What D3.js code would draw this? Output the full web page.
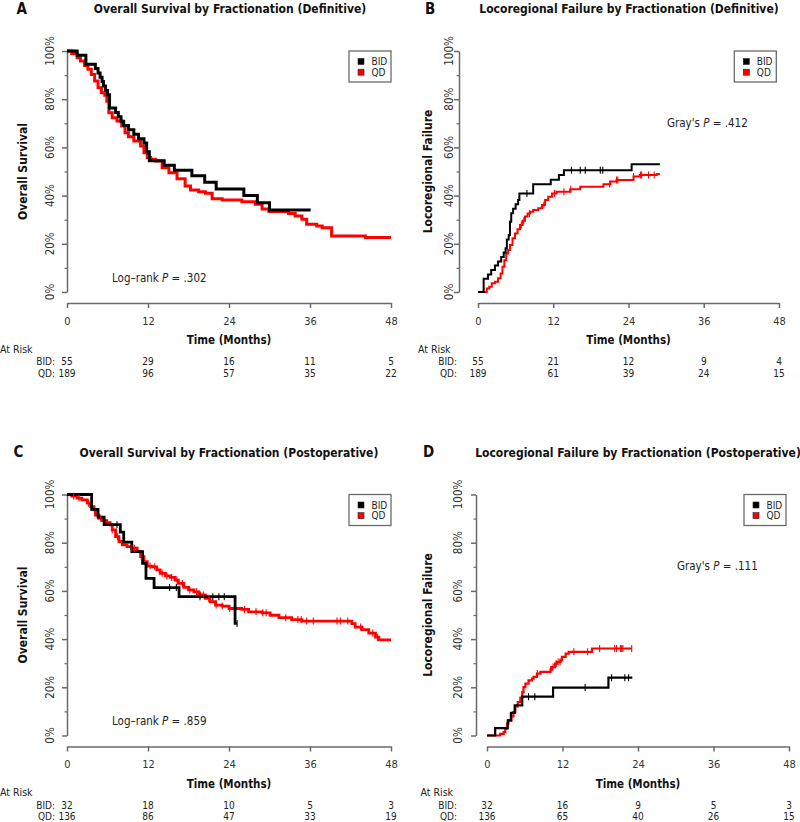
<!DOCTYPE html>
<html><head><meta charset="utf-8">
<script src="https://cdn.jsdelivr.net/npm/d3@7"></script>
<style>
body{margin:0;background:#fff}
svg{display:block}
text{font-family:"DejaVu Sans Condensed","DejaVu Sans",sans-serif;}
</style>
</head><body>
<svg id="c" width="800" height="822"></svg>
<script>
// ---------- tick labels / categories ----------
const months = [0, 12, 24, 36, 48];
const yTicks = [0, 20, 40, 60, 80, 100];
const yMinor = [10, 30, 50, 70, 90];
const groups = ["BID", "QD"];

// ---------- A: Overall survival, definitive ----------
const osDefBID = [[0,100],[1.5,98.2],[2.8,94.5],[4.2,92.7],[4.6,90.9],[4.9,89.1],[5.2,87.3],[5.4,85.5],[5.7,83.6],[6.0,81.8],[6.3,76.4],[7.2,74.5],[7.6,72.7],[8.0,70.9],[8.4,69.1],[9.1,67.3],[9.9,65.5],[10.6,63.6],[11.4,61.8],[11.8,58.2],[12.2,54.5],[14.4,52.6],[15.9,50.5],[18.5,48.2],[20.4,45.5],[22.1,42.7],[26.2,40.0],[28.2,37.0],[30.0,34.0],[36.1,34.0]];
const osDefQD = [[0,100],[0.7,99.0],[1.5,97.2],[2.0,95.9],[2.6,94.0],[3.1,92.4],[3.6,90.3],[4.1,87.6],[4.6,84.8],[5.1,82.7],[5.6,81.6],[5.9,79.2],[6.2,74.4],[6.7,72.3],[7.4,71.0],[8.1,68.9],[8.6,66.1],[9.1,64.4],[9.9,62.7],[10.9,60.6],[11.4,57.8],[11.9,55.8],[12.4,55.1],[13.1,54.4],[14.1,51.6],[15.1,49.5],[16.3,47.0],[17.5,44.0],[18.3,42.3],[19.5,41.6],[20.5,41.0],[21.5,38.7],[23.0,38.2],[25.9,37.5],[27.9,36.4],[28.9,34.4],[29.9,33.4],[32.8,32.6],[33.8,31.5],[34.8,30.2],[35.5,28.1],[37.0,27.4],[37.8,26.7],[39.2,23.2],[44.2,22.6],[48.0,22.6]];
const osDefBIDCens = [];
const osDefQDCens = [];
const riskOsDefBID = [55, 29, 16, 11, 5];
const riskOsDefQD = [189, 96, 57, 35, 22];

// ---------- B: Locoregional failure, definitive ----------
const lrfDefBID = [[0,0],[0.9,5.5],[1.6,7.3],[2.1,9.1],[2.7,11.0],[3.2,12.7],[3.7,14.5],[4.1,16.4],[4.4,18.2],[4.6,21.8],[4.9,23.6],[5.1,29.1],[5.3,32.7],[5.6,34.5],[6.0,36.4],[6.4,38.2],[6.6,40.9],[8.8,44.7],[11.6,46.6],[12.9,48.5],[13.7,50.5],[24.5,53.0],[29.0,53.0]];
const lrfDefQD = [[0,0],[1.4,1.5],[1.8,2.2],[2.2,3.6],[2.7,4.3],[3.2,5.7],[3.6,7.7],[3.9,10.5],[4.2,13.2],[4.5,16.0],[4.8,17.4],[5.1,19.5],[5.5,22.3],[5.9,24.3],[6.3,26.0],[6.7,27.8],[7.1,29.6],[7.5,31.3],[7.9,32.6],[8.3,33.3],[8.8,34.0],[9.6,34.7],[10.2,36.1],[10.7,38.2],[11.2,39.5],[11.8,40.9],[12.5,41.6],[14.7,42.6],[16.3,43.7],[20.0,44.7],[21.1,45.8],[22.1,46.5],[24.8,47.9],[25.8,48.5],[28.5,49.0],[29.0,49.0]];
const lrfDefBIDCens = [7.8, 14.9, 16.3, 17.1, 19.5, 19.9];
const lrfDefQDCens = [6.9, 7.3, 8.2, 10.5, 12.2, 13.7, 14.8, 21.0, 22.1, 22.3, 24.8, 25.9, 26.1, 27.2, 28.1];
const riskLrfDefBID = [55, 21, 12, 9, 4];
const riskLrfDefQD = [189, 61, 39, 24, 15];

// ---------- C: Overall survival, postoperative ----------
const osPostBID = [[0,100],[3.65,93.8],[4.6,90.6],[5.5,87.5],[7.9,84.4],[8.4,80.2],[9.6,76.3],[11.2,71.4],[11.7,65.2],[12.9,61.4],[16.6,57.6],[24.9,46.5],[25.2,46.5]];
const osPostQD = [[0,100],[0.7,99.3],[1.5,98.5],[2.2,97.8],[3.0,96.4],[3.5,95.0],[4.0,93.6],[4.2,91.5],[4.7,90.1],[5.2,89.2],[5.9,88.3],[6.4,87.4],[6.7,85.3],[7.2,82.5],[7.7,80.5],[8.2,79.1],[8.9,78.4],[9.6,77.7],[10.4,76.3],[10.9,74.2],[11.4,72.1],[11.9,70.3],[12.6,70.0],[13.3,68.7],[13.8,67.3],[14.6,66.2],[15.3,65.6],[16.0,64.5],[16.5,63.1],[17.3,61.5],[18.0,60.4],[18.8,59.6],[19.5,58.3],[20.5,56.9],[21.2,55.5],[22.0,54.1],[23.0,53.7],[24.0,52.7],[25.9,52.3],[26.9,51.3],[28.9,50.9],[30.1,49.9],[31.4,48.9],[33.3,48.1],[34.8,47.5],[42.2,46.4],[42.7,45.0],[43.7,43.9],[44.7,42.5],[45.7,40.8],[46.2,39.7],[48.0,39.7]];
const osPostBIDCens = [7.4, 15.2, 16.2, 19.7, 21.6, 22.5, 23.3, 25.2];
const osPostQDCens = [1.0, 1.8, 3.2, 5.0, 6.7, 7.5, 9.6, 10.0, 11.0, 12.3, 13.0, 14.1, 14.8, 15.5, 16.3, 17.1, 18.2, 19.2, 19.8, 20.2, 21.0, 22.1, 23.0, 24.1, 26.3, 28.0, 29.0, 29.5, 32.4, 34.2, 34.7, 35.5, 36.5, 40.0, 40.5, 41.6, 43.5, 45.3, 46.0];
const riskOsPostBID = [32, 18, 10, 5, 3];
const riskOsPostQD = [136, 86, 47, 33, 19];

// ---------- D: Locoregional failure, postoperative ----------
const lrfPostBID = [[0,0],[1.3,3.1],[3.3,6.3],[3.8,9.4],[4.4,12.5],[5.6,16.1],[10.5,19.9],[19.3,24.0],[23.1,24.0]];
const lrfPostQD = [[0,0],[2.1,0.7],[2.65,1.4],[2.9,2.8],[3.2,4.9],[3.4,6.2],[3.9,7.9],[4.2,9.7],[4.5,12.1],[4.9,13.9],[5.3,15.7],[5.6,18.0],[5.8,20.1],[6.1,21.5],[6.6,22.9],[7.15,23.6],[7.4,24.3],[7.95,25.7],[8.5,26.4],[10.1,27.3],[10.3,28.4],[10.8,29.8],[11.1,30.5],[11.7,31.2],[11.9,32.6],[12.5,34.0],[13.0,34.7],[16.7,36.1],[23.0,36.1]];
const lrfPostBIDCens = [6.6, 7.6, 15.6, 19.8, 21.9, 22.5];
const lrfPostQDCens = [8.0, 10.1, 10.5, 11.0, 11.3, 11.6, 13.8, 16.0, 17.9, 20.3, 20.6, 21.2, 21.4, 21.6, 23.0];
const riskLrfPostBID = [32, 16, 9, 5, 3];
const riskLrfPostQD = [136, 65, 40, 26, 15];

// ---------- texts ----------
const titles = ["Overall Survival by Fractionation (Definitive)", "Locoregional Failure by Fractionation (Definitive)", "Overall Survival by Fractionation (Postoperative)", "Locoregional Failure by Fractionation (Postoperative)"];
const letters = ["A", "B", "C", "D"];
const yTitles = ["Overall Survival", "Locoregional Failure", "Overall Survival", "Locoregional Failure"];
const pTests = ["Log\u2013rank ", "Gray's ", "Log\u2013rank ", "Gray's "];
const pValues = [".302", ".412", ".859", ".111"];

// ---------- layout (not data) ----------
const colors = {BID: "#000000", QD: "#ff0000"};
const axisColor = "#6a6a6a";
const layout = [
  {dy: 0, yAxisX: 67, xr: [67, 391], yLabX: 53.5, yTitleX: 26.5, titleX: 230, letterX: 16.5, legR: 391, pX: 112, pY: 281.5, arX: 0, arR: 55, lw: 3},
  {dy: 0, yAxisX: 459, xr: [478, 779], yLabX: 453, yTitleX: 432, titleX: 629, letterX: 425, legR: 776.3, pX: 667, pY: 126.5, arX: 418, arR: 457, lw: 2},
  {dy: 443.5, yAxisX: 67, xr: [67, 391], yLabX: 53.5, yTitleX: 26.5, titleX: 229, letterX: 13.5, legR: 391, pX: 112, pY: 281.5, arX: 0, arR: 55, lw: 2.8},
  {dy: 443.5, yAxisX: 476, xr: [487, 789], yLabX: 461.5, yTitleX: 432, titleX: 638, letterX: 423, legR: 786, pX: 677, pY: 126.5, arX: 420.5, arR: 457, lw: 2.2}
];
const series = [
  {BID: osDefBID, QD: osDefQD, cBID: osDefBIDCens, cQD: osDefQDCens, rBID: riskOsDefBID, rQD: riskOsDefQD},
  {BID: lrfDefBID, QD: lrfDefQD, cBID: lrfDefBIDCens, cQD: lrfDefQDCens, rBID: riskLrfDefBID, rQD: riskLrfDefQD},
  {BID: osPostBID, QD: osPostQD, cBID: osPostBIDCens, cQD: osPostQDCens, rBID: riskOsPostBID, rQD: riskOsPostQD},
  {BID: lrfPostBID, QD: lrfPostQD, cBID: lrfPostBIDCens, cQD: lrfPostQDCens, rBID: riskLrfPostBID, rQD: riskLrfPostQD}
];
layout[3].pY = 570 - 443.5;
layout[2].pY = 725 - 443.5;

const svg = d3.select("#c");

function stepValue(arr, t) {
  let v = arr[0][1];
  for (const [tt, vv] of arr) { if (tt <= t) v = vv; else break; }
  return v;
}

layout.forEach((L, i) => {
  const S = series[i];
  const g = svg.append("g").attr("transform", `translate(0,${L.dy})`);
  const x = d3.scaleLinear().domain([0, 48]).range(L.xr);
  const y = d3.scaleLinear().domain([0, 100]).range([292, 51]);

  // titles
  g.append("text").attr("x", L.titleX).attr("y", 13).attr("text-anchor", "middle")
    .attr("font-weight", "bold").attr("font-size", 12).attr("fill", "#111").text(titles[i]);
  g.append("text").attr("x", L.letterX).attr("y", 13.5)
    .attr("font-weight", "bold").attr("font-size", 15).attr("fill", "#111").text(letters[i]);

  // x axis
  const xa = g.append("g").attr("transform", "translate(0,303)")
    .call(d3.axisBottom(x).tickValues(months).tickSize(5).tickSizeOuter(0).tickPadding(9));
  xa.selectAll("path,line").attr("stroke", axisColor).attr("stroke-width", 1.5);
  xa.selectAll("text").attr("font-size", 11).attr("fill", "#333")
    .attr("font-family", '"DejaVu Sans Condensed","DejaVu Sans",sans-serif');

  // y axis
  const ya = g.append("g").attr("transform", `translate(${L.yAxisX},0)`)
    .call(d3.axisLeft(y).tickValues(yTicks).tickSize(5).tickSizeOuter(0).tickFormat(""));
  ya.selectAll("path,line").attr("stroke", axisColor).attr("stroke-width", 1.5);
  const ym = g.append("g").attr("transform", `translate(${L.yAxisX},0)`)
    .call(d3.axisLeft(y).tickValues(yMinor).tickSize(2.5).tickFormat(""));
  ym.select(".domain").remove();
  ym.selectAll("line").attr("stroke", axisColor).attr("stroke-width", 1.2);

  g.selectAll(".ylab").data(yTicks).join("text")
    .attr("transform", d => `translate(${L.yLabX},${y(d)}) rotate(-90)`)
    .attr("text-anchor", "middle").attr("font-size", 11.5).attr("fill", "#333")
    .text(d => d + "%");
  g.append("text")
    .attr("transform", `translate(${L.yTitleX},${(y(0) + y(100)) / 2}) rotate(-90)`)
    .attr("text-anchor", "middle").attr("font-size", 12).attr("font-weight", "bold").attr("fill", "#111")
    .text(yTitles[i]);

  // axis title
  g.append("text").attr("x", (x(0) + x(48)) / 2).attr("y", 344).attr("text-anchor", "middle")
    .attr("font-size", 11.5).attr("font-weight", "bold").attr("fill", "#111").text("Time (Months)");

  // curves
  const line = d3.line().curve(d3.curveStepAfter).x(d => x(d[0])).y(d => y(d[1]));
  ["QD", "BID"].forEach(k => {
    g.append("path").datum(S[k]).attr("d", line).attr("fill", "none")
      .attr("stroke", colors[k]).attr("stroke-width", L.lw).attr("stroke-linejoin", "miter");
  });
  // censor marks
  [["QD", S.cQD], ["BID", S.cBID]].forEach(([k, cens]) => {
    g.selectAll(null).data(cens).join("line")
      .attr("x1", d => x(d)).attr("x2", d => x(d))
      .attr("y1", d => y(stepValue(S[k], d)) - 3.5).attr("y2", d => y(stepValue(S[k], d)) + 3.5)
      .attr("stroke", colors[k]).attr("stroke-width", 1.1);
  });

  // legend
  const lg = g.append("g");
  lg.append("rect").attr("x", L.legR - 42).attr("y", 51).attr("width", 42).attr("height", 31)
    .attr("fill", "#fff").attr("stroke", axisColor).attr("stroke-width", 1.3);
  groups.forEach((k, j) => {
    lg.append("rect").attr("x", L.legR - 33).attr("y", 58.5 + j * 10.7).attr("width", 6).attr("height", 6)
      .attr("fill", colors[k]).attr("stroke", "#222").attr("stroke-width", 0.6);
    lg.append("text").attr("x", L.legR - 19.5).attr("y", 65 + j * 10.7).attr("font-size", 10)
      .attr("fill", "#222").text(k);
  });

  // p value
  const pt = g.append("text").attr("x", L.pX).attr("y", L.pY).attr("font-size", 11.5).attr("fill", "#222");
  pt.append("tspan").text(pTests[i]);
  pt.append("tspan").attr("font-style", "italic").text("P");
  pt.append("tspan").text(" = " + pValues[i]);

  // at risk table
  const fs = 10;
  g.append("text").attr("x", L.arX).attr("y", 352.5).attr("font-size", 10.5).attr("fill", "#222").text("At Risk");
  g.append("text").attr("x", L.arR).attr("y", 365.3).attr("text-anchor", "end").attr("font-size", fs).attr("fill", "#222").text("BID:");
  g.append("text").attr("x", L.arR).attr("y", 376.8).attr("text-anchor", "end").attr("font-size", fs).attr("fill", "#222").text("QD:");
  g.selectAll(null).data(S.rBID).join("text").attr("x", (d, j) => x(months[j])).attr("y", 365.3)
    .attr("text-anchor", "middle").attr("font-size", fs).attr("fill", "#222").text(d => d);
  g.selectAll(null).data(S.rQD).join("text").attr("x", (d, j) => x(months[j])).attr("y", 376.8)
    .attr("text-anchor", "middle").attr("font-size", fs).attr("fill", "#222").text(d => d);
});
</script>
</body></html>
